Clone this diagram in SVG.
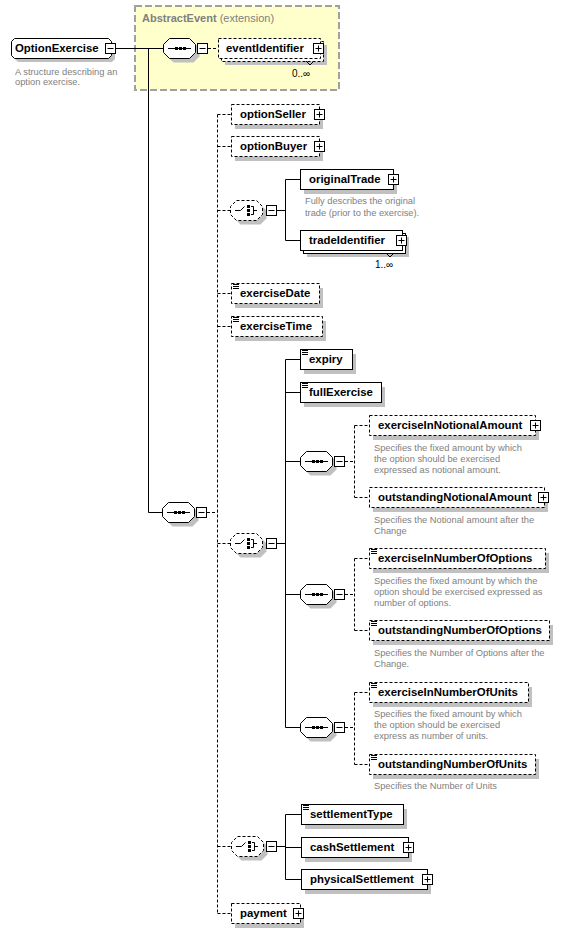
<svg xmlns="http://www.w3.org/2000/svg" xmlns:xlink="http://www.w3.org/1999/xlink" width="578" height="932" viewBox="0 0 578 932">
<style>
.sh{fill:#c0c0c0}
.el{fill:#fff;stroke:#000;stroke-width:1}
.opt{stroke-dasharray:3,2}
.t{font-family:"Liberation Sans",Arial,sans-serif;font-weight:bold;font-size:11.4px;fill:#000}
.d{font-family:"Liberation Sans",Arial,sans-serif;font-size:9.3px;fill:#808080}
.m{font-family:"Liberation Sans",Arial,sans-serif;font-size:10px;fill:#000}
.c{fill:none;stroke:#000;stroke-width:1}
.dc{fill:none;stroke:#000;stroke-width:1;stroke-dasharray:3,2}
</style>
<defs>
<g id="minus"><rect x="0.5" y="0.5" width="10" height="10" fill="#fff" stroke="#000"/><path d="M2.5,5.5H8.5" stroke="#000"/></g>
<g id="plus"><rect x="0.5" y="0.5" width="10" height="10" fill="#fff" stroke="#000"/><path d="M2.5,5.5H8.5M5.5,2.5V8.5" stroke="#000"/></g>
<polygon id="oct" points="6.5,0.5 26.5,0.5 32.5,6.5 32.5,14.5 26.5,20.5 6.5,20.5 0.5,14.5 0.5,6.5"/>
<g id="seq">
<use xlink:href="#oct" href="#oct" x="4" y="4" class="sh"/>
<use xlink:href="#oct" href="#oct" class="el"/>
<path d="M5,10.5H28" stroke="#000"/>
<rect x="12" y="9" width="3" height="3" fill="#000"/><rect x="16" y="9" width="3" height="3" fill="#000"/><rect x="20" y="9" width="3" height="3" fill="#000"/>
</g>
<g id="chc">
<use xlink:href="#oct" href="#oct" x="4" y="4" class="sh"/>
<use xlink:href="#oct" href="#oct" class="el opt"/>
<path d="M5,10.5H10.5L14.5,6.5" fill="none" stroke="#000"/>
<rect x="17" y="5" width="3" height="3" fill="#000"/><rect x="17" y="9" width="3" height="3" fill="#000"/><rect x="17" y="13" width="3" height="3" fill="#000"/>
<path d="M21,6.5H23.5V14.5H21M23.5,10.5H27" fill="none" stroke="#000"/>
</g>
<path id="st" d="M2,1.5H8M2,3.5H8M2,5.5H8" stroke="#000"/>
</defs>

<rect x="135" y="6" width="204" height="84" fill="#ffffcc" stroke="#a0a0a0" stroke-width="2" stroke-dasharray="7,3"/>
<text x="142" y="22" class="d" style="font-size:11px"><tspan font-weight="bold">AbstractEvent</tspan> (extension)</text>

<g id="connectors">
<path class="c" d="M115,48.5H163M148.5,48.5V512.5H162"/>
<path class="dc" d="M208,48.5H218"/>
<path class="dc" d="M207,512.5H217.5M217.5,114.5V913.5M217.5,114.5H231M217.5,146.5H231M217.5,210.5H230M217.5,293.5H231M217.5,326.5H231M217.5,543.5H230M217.5,846.5H231M217.5,913.5H231"/>
<path class="c" d="M277,210.5H285.5M285.5,179.5V240.5M285.5,179.5H300M285.5,240.5H300"/>
<path class="c" d="M277,543.5H285.5M285.5,359.5V727.5M285.5,359.5H300M285.5,392.5H300M285.5,461.5H300M285.5,594.5H300M285.5,727.5H300"/>
<path class="c" d="M277,846.5H285.5M285.5,814.5V879.5M285.5,814.5H301M285.5,847.5H301M285.5,879.5H301"/>
<path class="dc" d="M345,461.5H354.5M354.5,425.5V497.5M354.5,425.5H369M354.5,497.5H369"/>
<path class="dc" d="M345,594.5H354.5M354.5,558.5V630.5M354.5,558.5H369M354.5,630.5H369"/>
<path class="dc" d="M345,727.5H354.5M354.5,692.5V764.5M354.5,692.5H369M354.5,764.5H369"/>
</g>

<g id="n-OptionExercise">
<polygon class="sh" points="18,42 112,42 115,45 115,59 112,62 18,62 15,59 15,45"/>
<polygon class="el" points="14.5,38.5 108.5,38.5 111.5,41.5 111.5,55.5 108.5,58.5 14.5,58.5 11.5,55.5 11.5,41.5"/>
<text class="t" x="15" y="52">OptionExercise</text>
<use xlink:href="#minus" href="#minus" x="105" y="43"/>
<text class="d" x="15" y="75">A structure describing an</text>
<text class="d" x="15" y="85">option exercise.</text>
</g>

<g id="n-seqTop"><use xlink:href="#seq" href="#seq" x="163" y="38"/><use xlink:href="#minus" href="#minus" x="197" y="43"/></g>

<g id="n-eventIdentifier">
<rect class="sh" x="225" y="45" width="102" height="20"/>
<rect class="el opt" x="221.5" y="41.5" width="102" height="20"/>
<rect class="el opt" x="218.5" y="38.5" width="102" height="20"/>
<text class="t" x="226" y="52">eventIdentifier</text>
<use xlink:href="#plus" href="#plus" x="313" y="43"/>
<path d="M306,61L310,65L314,61" fill="none" stroke="#000"/>
<text class="m" x="292" y="77">0..∞</text>
</g>

<g id="n-seqMain"><use xlink:href="#seq" href="#seq" x="162" y="502"/><use xlink:href="#minus" href="#minus" x="196" y="507"/></g>

<g id="n-optionSeller">
<rect class="sh" x="235" y="109" width="88" height="20"/>
<rect class="el opt" x="231.5" y="104.5" width="88" height="20"/>
<text class="t" x="240" y="118">optionSeller</text>
<use xlink:href="#plus" href="#plus" x="314" y="109"/>
</g>
<g id="n-optionBuyer">
<rect class="sh" x="235" y="141" width="88" height="20"/>
<rect class="el opt" x="231.5" y="136.5" width="88" height="20"/>
<text class="t" x="240" y="150">optionBuyer</text>
<use xlink:href="#plus" href="#plus" x="314" y="141"/>
</g>

<g id="n-choice1"><use xlink:href="#chc" href="#chc" x="230" y="200"/><use xlink:href="#minus" href="#minus" x="266" y="205"/></g>

<g id="n-originalTrade">
<rect class="sh" x="304" y="174" width="93" height="20"/>
<rect class="el" x="300.5" y="169.5" width="93" height="20"/>
<text class="t" x="309" y="183">originalTrade</text>
<use xlink:href="#plus" href="#plus" x="388" y="174"/>
<text class="d" x="305" y="204">Fully describes the original</text>
<text class="d" x="305" y="216">trade (prior to the exercise).</text>
</g>

<g id="n-tradeIdentifier">
<rect class="sh" x="307" y="237" width="102" height="20"/>
<rect class="el" x="303.5" y="233.5" width="102" height="20"/>
<rect class="el" x="300.5" y="230.5" width="102" height="20"/>
<text class="t" x="309" y="244">tradeIdentifier</text>
<use xlink:href="#plus" href="#plus" x="396" y="235"/>
<path d="M386,253L390,257L394,253" fill="none" stroke="#000"/>
<text class="m" x="375" y="268">1..∞</text>
</g>

<g id="n-exerciseDate">
<rect class="sh" x="235" y="288" width="88" height="20"/>
<rect class="el opt" x="231.5" y="283.5" width="88" height="20"/>
<use xlink:href="#st" href="#st" x="231" y="283"/>
<text class="t" x="240" y="297">exerciseDate</text>
</g>
<g id="n-exerciseTime">
<rect class="sh" x="235" y="321" width="91" height="20"/>
<rect class="el opt" x="231.5" y="316.5" width="91" height="20"/>
<use xlink:href="#st" href="#st" x="231" y="316"/>
<text class="t" x="240" y="330">exerciseTime</text>
</g>

<g id="n-choice2"><use xlink:href="#chc" href="#chc" x="230" y="533"/><use xlink:href="#minus" href="#minus" x="266" y="538"/></g>

<g id="n-expiry">
<rect class="sh" x="304" y="354" width="52" height="20"/>
<rect class="el" x="300.5" y="349.5" width="52" height="20"/>
<use xlink:href="#st" href="#st" x="300" y="349"/>
<text class="t" x="309" y="363">expiry</text>
</g>
<g id="n-fullExercise">
<rect class="sh" x="304" y="387" width="81" height="20"/>
<rect class="el" x="300.5" y="382.5" width="81" height="20"/>
<use xlink:href="#st" href="#st" x="300" y="382"/>
<text class="t" x="309" y="396">fullExercise</text>
</g>

<g id="n-seqA"><use xlink:href="#seq" href="#seq" x="300" y="451"/><use xlink:href="#minus" href="#minus" x="334" y="456"/></g>
<g id="n-exerciseInNotionalAmount">
<rect class="sh" x="373" y="420" width="166" height="20"/>
<rect class="el opt" x="369.5" y="415.5" width="166" height="20"/>
<text class="t" x="378" y="429">exerciseInNotionalAmount</text>
<use xlink:href="#plus" href="#plus" x="530" y="420"/>
<text class="d" x="374" y="451">Specifies the fixed amount by which</text>
<text class="d" x="374" y="462">the option should be exercised</text>
<text class="d" x="374" y="473">expressed as notional amount.</text>
</g>
<g id="n-outstandingNotionalAmount">
<rect class="sh" x="373" y="492" width="175" height="20"/>
<rect class="el opt" x="369.5" y="487.5" width="175" height="20"/>
<text class="t" x="378" y="501">outstandingNotionalAmount</text>
<use xlink:href="#plus" href="#plus" x="538" y="492"/>
<text class="d" x="374" y="523">Specifies the Notional amount after the</text>
<text class="d" x="374" y="534">Change</text>
</g>

<g id="n-seqB"><use xlink:href="#seq" href="#seq" x="300" y="584"/><use xlink:href="#minus" href="#minus" x="334" y="589"/></g>
<g id="n-exerciseInNumberOfOptions">
<rect class="sh" x="373" y="553" width="176" height="20"/>
<rect class="el opt" x="369.5" y="548.5" width="176" height="20"/>
<use xlink:href="#st" href="#st" x="369" y="548"/>
<text class="t" x="378" y="562">exerciseInNumberOfOptions</text>
<text class="d" x="374" y="584">Specifies the fixed amount by which the</text>
<text class="d" x="374" y="595">option should be exercised expressed as</text>
<text class="d" x="374" y="606">number of options.</text>
</g>
<g id="n-outstandingNumberOfOptions">
<rect class="sh" x="373" y="625" width="180" height="20"/>
<rect class="el opt" x="369.5" y="620.5" width="180" height="20"/>
<use xlink:href="#st" href="#st" x="369" y="620"/>
<text class="t" x="378" y="634">outstandingNumberOfOptions</text>
<text class="d" x="374" y="656">Specifies the Number of Options after the</text>
<text class="d" x="374" y="667">Change.</text>
</g>

<g id="n-seqC"><use xlink:href="#seq" href="#seq" x="300" y="717"/><use xlink:href="#minus" href="#minus" x="334" y="722"/></g>
<g id="n-exerciseInNumberOfUnits">
<rect class="sh" x="373" y="687" width="159" height="20"/>
<rect class="el opt" x="369.5" y="682.5" width="159" height="20"/>
<use xlink:href="#st" href="#st" x="369" y="682"/>
<text class="t" x="378" y="696">exerciseInNumberOfUnits</text>
<text class="d" x="374" y="717">Specifies the fixed amount by which</text>
<text class="d" x="374" y="728">the option should be exercised</text>
<text class="d" x="374" y="739">express as number of units.</text>
</g>
<g id="n-outstandingNumberOfUnits">
<rect class="sh" x="373" y="759" width="166" height="20"/>
<rect class="el opt" x="369.5" y="754.5" width="166" height="20"/>
<use xlink:href="#st" href="#st" x="369" y="754"/>
<text class="t" x="378" y="768">outstandingNumberOfUnits</text>
<text class="d" x="374" y="789">Specifies the Number of Units</text>
</g>

<g id="n-choice3"><use xlink:href="#chc" href="#chc" x="231" y="836"/><use xlink:href="#minus" href="#minus" x="266" y="841"/></g>
<g id="n-settlementType">
<rect class="sh" x="305" y="809" width="102" height="20"/>
<rect class="el" x="301.5" y="804.5" width="102" height="20"/>
<use xlink:href="#st" href="#st" x="301" y="804"/>
<text class="t" x="310" y="818">settlementType</text>
</g>
<g id="n-cashSettlement">
<rect class="sh" x="305" y="842" width="107" height="20"/>
<rect class="el" x="301.5" y="837.5" width="107" height="20"/>
<text class="t" x="310" y="851">cashSettlement</text>
<use xlink:href="#plus" href="#plus" x="403" y="842"/>
</g>
<g id="n-physicalSettlement">
<rect class="sh" x="305" y="874" width="126" height="20"/>
<rect class="el" x="301.5" y="869.5" width="126" height="20"/>
<text class="t" x="310" y="883">physicalSettlement</text>
<use xlink:href="#plus" href="#plus" x="422" y="874"/>
</g>
<g id="n-payment">
<rect class="sh" x="235" y="908" width="69" height="20"/>
<rect class="el opt" x="231.5" y="903.5" width="69" height="20"/>
<text class="t" x="240" y="917">payment</text>
<use xlink:href="#plus" href="#plus" x="293" y="908"/>
</g>
</svg>
